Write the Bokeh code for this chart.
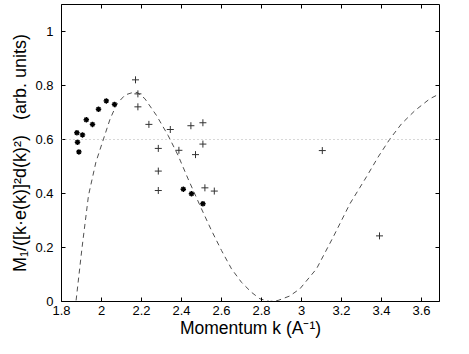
from bokeh.plotting import figure
from bokeh.models import LinearAxis, FixedTicker, Span, Range1d
from bokeh.embed import file_html
from bokeh.resources import INLINE

# Data
star_k = [1.877, 1.905, 1.880, 1.887, 1.924, 1.955, 1.985, 2.024, 2.065, 2.409, 2.450, 2.507]
star_m = [0.625, 0.617, 0.590, 0.554, 0.673, 0.656, 0.712, 0.743, 0.730, 0.416, 0.399, 0.362]

plus_k = [2.170, 2.182, 2.182, 2.237, 2.344, 2.447, 2.507, 2.284, 2.387, 2.507, 2.470,
          2.284, 2.284, 2.517, 2.564, 3.104, 3.390]
plus_m = [0.821, 0.769, 0.721, 0.656, 0.637, 0.651, 0.662, 0.567, 0.560, 0.583, 0.544,
          0.483, 0.411, 0.421, 0.409, 0.559, 0.243]

model_k = [1.873, 1.902, 1.935, 1.972, 2.010, 2.043, 2.077, 2.118, 2.160, 2.180, 2.217,
           2.275, 2.333, 2.383, 2.433, 2.500, 2.550, 2.600, 2.650, 2.700, 2.750, 2.792,
           2.840, 2.883, 2.940, 2.992, 3.075, 3.158, 3.242, 3.325, 3.383, 3.442, 3.500,
           3.567, 3.642, 3.690]
model_m = [0.004, 0.195, 0.393, 0.516, 0.602, 0.676, 0.732, 0.765, 0.775, 0.774, 0.751,
           0.689, 0.615, 0.541, 0.454, 0.343, 0.263, 0.189, 0.121, 0.071, 0.034, 0.010,
           0.000, 0.004, 0.020, 0.047, 0.121, 0.238, 0.362, 0.462, 0.535, 0.602, 0.658,
           0.707, 0.751, 0.769]

reference_level = 0.6

x_ticks = [1.8, 2.0, 2.2, 2.4, 2.6, 2.8, 3.0, 3.2, 3.4, 3.6]
x_tick_labels = ["1.8", "2", "2.2", "2.4", "2.6", "2.8", "3", "3.2", "3.4", "3.6"]
y_ticks = [0.0, 0.2, 0.4, 0.6, 0.8, 1.0]
y_tick_labels = ["0", "0.2", "0.4", "0.6", "0.8", "1"]

FONT = "Liberation Sans"

p = figure(width=469, height=354, output_backend="svg", toolbar_location=None,
           x_range=Range1d(1.8, 3.69), y_range=Range1d(0, 1.1),
           min_border_left=61, min_border_right=30, min_border_top=4, min_border_bottom=53)
p.background_fill_color = "white"
p.border_fill_color = "white"
p.outline_line_color = None
p.xgrid.visible = False
p.ygrid.visible = False

def style_common(ax):
    ax.major_tick_in = 4
    ax.major_tick_out = 0
    ax.minor_tick_in = 4
    ax.minor_tick_out = 0
    ax.axis_line_color = "black"
    ax.axis_line_width = 1
    ax.major_tick_line_color = "black"
    ax.minor_tick_line_color = "black"
    ax.major_label_text_font = FONT
    ax.major_label_text_color = "black"
    ax.major_label_text_font_size = "13px"

xa = p.xaxis[0]
ya = p.yaxis[0]
xa.ticker = FixedTicker(ticks=x_ticks)
xa.major_label_overrides = dict(zip(x_ticks, x_tick_labels))
ya.ticker = FixedTicker(ticks=y_ticks)
ya.major_label_overrides = dict(zip(y_ticks, y_tick_labels))
style_common(xa)
style_common(ya)
xa.minor_tick_line_color = None
ya.minor_tick_line_color = None
xa.major_label_standoff = 4
ya.major_label_standoff = 8
xa.axis_label = "Momentum k (A\u207b\u00b9)"
ya.axis_label = "M\u2081/([k\u00b7e(k)]\u00b2d(k)\u00b2)\u00a0\u00a0\u00a0(arb. units)"
for ax in (xa, ya):
    ax.axis_label_text_font = FONT
    ax.axis_label_text_font_style = "normal"
    ax.axis_label_text_color = "black"
xa.axis_label_text_font_size = "17.5px"
ya.axis_label_text_font_size = "18px"
xa.axis_label_standoff = 0
ya.axis_label_standoff = 2

# box axes on top and right: ticks only (as minor ticks, no labels)
top = LinearAxis(ticker=FixedTicker(ticks=[], minor_ticks=x_ticks))
right = LinearAxis(ticker=FixedTicker(ticks=[], minor_ticks=y_ticks))
for ax in (top, right):
    style_common(ax)
    ax.major_label_standoff = 0
p.add_layout(top, "above")
p.add_layout(right, "right")

p.add_layout(Span(location=reference_level, dimension="width", line_color="#b0b0b0",
                  line_dash="1 3", line_width=1))

p.line(model_k, model_m, line_color="#505050", line_width=1, line_dash="5 4")
p.scatter(plus_k, plus_m, marker="cross", size=7, line_color="#333333", line_width=1)
p.scatter(star_k, star_m, marker="asterisk", size=5.5, line_color="black", line_width=1.4)

open("out.html", "w").write(file_html(p, INLINE))
